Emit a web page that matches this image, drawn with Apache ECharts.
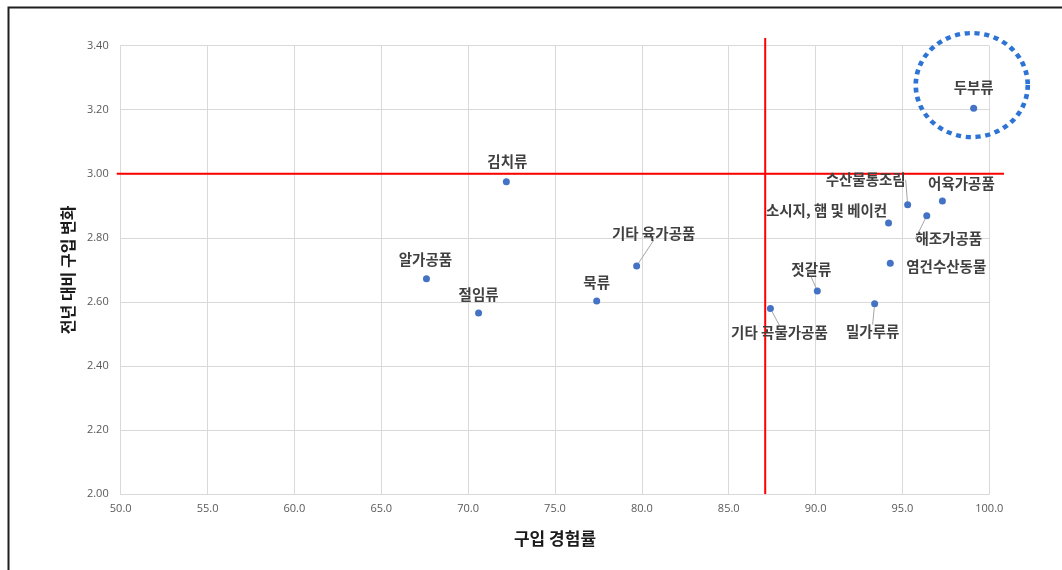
<!DOCTYPE html>
<html>
<head>
<meta charset="utf-8">
<script src="https://cdn.jsdelivr.net/npm/echarts@6/dist/echarts.min.js"></script>
<style>
  html, body { margin: 0; padding: 0; background: #ffffff; }
  #chart { width: 1062px; height: 570px; }
</style>
</head>
<body>
<div id="chart"></div>
<script>
// 품목별 구입 경험률(%)과 전년 대비 구입 변화
const categories = [
  '김치류', '알가공품', '절임류', '묵류', '기타 육가공품',
  '수산물통조림', '어육가공품', '소시지, 햄 및 베이컨', '해조가공품', '염건수산동물',
  '젓갈류', '기타 곡물가공품', '밀가루류', '두부류'
];
const experienceRate = [72.2, 67.6, 70.6, 77.4, 79.7, 95.3, 97.3, 94.2, 96.4, 94.3, 90.1, 87.4, 93.4, 99.1];
const purchaseChange = [2.975, 2.672, 2.565, 2.603, 2.712, 2.903, 2.915, 2.846, 2.869, 2.721, 2.634, 2.579, 2.594, 3.205];

// 기준선: [x 시작, y 시작, x 끝, y 끝]
const refRate = 87.1;
const refChange = 3.0;
const referenceLines = [
  [49.77, refChange, 100.85, refChange],
  [refRate, 2.0, refRate, 3.424]
];

// 강조 표시(두부류) 원의 중심
const highlightCenter = [98.99, 3.277];

const xTicks = { min: 50, max: 100, interval: 5 };
const yTicks = { min: 2.0, max: 3.4, interval: 0.2 };

// 라벨 위치 보정(px)과 지시선 표시 여부
const labelShift = [
  [1, -20], [-1, -19], [0, -19], [0, -18], [17, -33],
  [-42, -25], [19, -18], [-62, -13], [22, 23], [56, 3],
  [-6, -21], [9, 24], [-2, 28], [0, -21]
];
const withGuide = [false, false, false, false, true, true, false, false, true, false, true, true, true, false];

const chart = echarts.init(document.getElementById('chart'), null, { renderer: 'canvas' });

const points = categories.map((name, i) => ({
  name: name,
  value: [experienceRate[i], purchaseChange[i]],
  labelLine: { show: withGuide[i] }
}));

const option = {
  backgroundColor: '#ffffff',
  animation: false,
  grid: { left: 120.7, right: 72.7, top: 45.7, bottom: 76, containLabel: false },
  xAxis: {
    type: 'value',
    min: xTicks.min, max: xTicks.max, interval: xTicks.interval,
    name: '구입 경험률',
    nameLocation: 'middle',
    nameGap: 36,
    nameTextStyle: { fontFamily: 'Noto Sans CJK KR', fontSize: 17, fontWeight: 'bold', color: '#1a1a1a', verticalAlign: 'top' },
    axisLine: { show: true, lineStyle: { color: '#d9d9d9', width: 1 } },
    axisTick: { show: false },
    axisLabel: {
      fontFamily: 'Open Sans', fontSize: 11, color: '#595959', margin: 9,
      formatter: v => v.toFixed(1)
    },
    splitLine: { show: true, lineStyle: { color: '#d9d9d9', width: 1 } }
  },
  yAxis: {
    type: 'value',
    min: yTicks.min, max: yTicks.max, interval: yTicks.interval,
    name: '전년 대비 구입 변화',
    nameLocation: 'middle',
    nameGap: 44,
    nameRotate: 90,
    nameTextStyle: { fontFamily: 'Noto Sans CJK KR', fontSize: 16, fontWeight: 'bold', color: '#1a1a1a', verticalAlign: 'bottom' },
    axisLine: { show: true, lineStyle: { color: '#d9d9d9', width: 1 } },
    axisTick: { show: false },
    axisLabel: {
      fontFamily: 'Open Sans', fontSize: 11, color: '#595959', margin: 12,
      formatter: v => v.toFixed(2)
    },
    splitLine: { show: true, lineStyle: { color: '#d9d9d9', width: 1 } }
  },
  graphic: [
    {
      type: 'polyline',
      silent: true,
      shape: { points: [[8.5, 570], [8.5, 7.5], [1062, 7.5]] },
      style: { stroke: '#1f1f1f', lineWidth: 2, fill: null }
    }
  ],
  series: [
    {
      // 기준선(가로·세로), 축 범위 밖으로 살짝 넘어가게 그림
      type: 'custom',
      silent: true,
      clip: false,
      z: 3,
      encode: { x: [0, 2], y: [1, 3] },
      renderItem: (params, api) => {
        const a = api.coord([api.value(0), api.value(1)]);
        const b = api.coord([api.value(2), api.value(3)]);
        return {
          type: 'line',
          shape: { x1: a[0], y1: a[1], x2: b[0], y2: b[1] },
          style: { stroke: '#ff0000', lineWidth: 2 }
        };
      },
      data: referenceLines
    },
    {
      type: 'scatter',
      z: 5,
      symbolSize: 7,
      itemStyle: { color: '#4472c4', opacity: 1 },
      label: {
        show: true,
        position: 'inside',
        formatter: p => p.name,
        fontFamily: 'Noto Sans CJK KR',
        fontSize: 14.5,
        fontWeight: 'bold',
        color: '#404040',
        align: 'center',
        verticalAlign: 'middle'
      },
      labelLine: { show: false, lineStyle: { color: '#a6a6a6', width: 1 } },
      labelLayout: p => ({ dx: labelShift[p.dataIndex][0], dy: labelShift[p.dataIndex][1] }),
      data: points
    },
    {
      // 두부류 강조 원
      type: 'scatter',
      silent: true,
      z: 6,
      symbol: 'circle',
      symbolSize: [112, 104],
      itemStyle: {
        color: 'rgba(0,0,0,0)',
        borderColor: '#2e74d4',
        borderWidth: 4.5,
        borderType: [5, 4.5],
        opacity: 1
      },
      data: [highlightCenter]
    }
  ]
};

chart.setOption(option);
</script>
</body>
</html>
